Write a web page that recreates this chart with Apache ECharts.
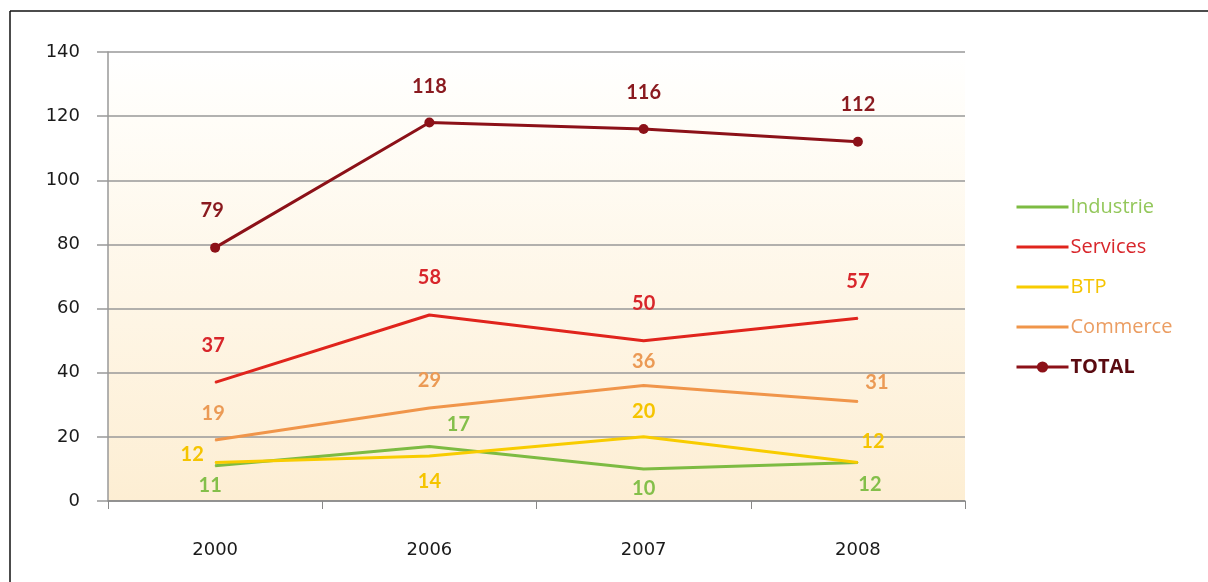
<!DOCTYPE html>
<html>
<head>
<meta charset="utf-8">
<script src="https://cdn.jsdelivr.net/npm/echarts@6/dist/echarts.min.js"></script>
<style>
  html, body { margin: 0; padding: 0; background: #fff; }
  #main { width: 1208px; height: 582px; }
</style>
</head>
<body>
<div id="main"></div>
<script>
// data
var years = ["2000", "2006", "2007", "2008"];
var industrie = [11, 17, 10, 12];
var services = [37, 58, 50, 57];
var btp = [12, 14, 20, 12];
var commerce = [19, 29, 36, 31];
var total = [79, 118, 116, 112];

// where each value label sits relative to its point (dx, dy in px)
var offIndustrie = [[-5, 20], [29, -22], [0, 20], [12, 22]];
var offServices = [[-2, -37], [0, -37], [0, -37], [0, -37]];
var offBtp = [[-23, -8], [0, 25], [0, -25], [15, -21]];
var offCommerce = [[-2, -27], [0, -27], [0, -24], [19, -19]];
var offTotal = [[-3, -37], [0, -36], [0, -36], [0, -37]];

var FONT = "Lato, 'Open Sans', sans-serif";
var AXFONT = "'DejaVu Sans', sans-serif";

function withLabels(values, offsets) {
  return values.map(function (v, i) {
    return { value: v, label: { offset: offsets[i] } };
  });
}

function makeSeries(name, values, offsets, color, labelColor, isTotal) {
  return {
    name: name,
    type: "line",
    data: withLabels(values, offsets),
    symbol: "circle",
    symbolSize: isTotal ? 10 : 1,
    lineStyle: { color: color, width: 3 },
    itemStyle: { color: color },
    label: {
      show: true,
      position: "inside",
      color: labelColor,
      fontFamily: FONT,
      fontWeight: "bold",
      fontSize: 20
    },
    emphasis: { disabled: true },
    z: isTotal ? 5 : 3
  };
}

var chart = echarts.init(document.getElementById("main"));
chart.setOption({
  animation: false,
  grid: {
    left: 108, right: 243, top: 52, bottom: 81,
    show: true,
    borderWidth: 0,
    backgroundColor: {
      type: "linear", x: 0, y: 0, x2: 0, y2: 1,
      colorStops: [
        { offset: 0, color: "#ffffff" },
        { offset: 0.15, color: "#fffdf8" },
        { offset: 1, color: "#fdeed3" }
      ]
    }
  },
  legend: {
    orient: "vertical",
    left: 1010, top: 192,
    itemWidth: 52, itemHeight: 14, itemGap: 20,
    lineStyle: { width: 3 },
    textStyle: { fontFamily: "'Open Sans', sans-serif", fontSize: 20, padding: [0, 0, 0, -3] },
    data: [
      { name: "Industrie", itemStyle: { opacity: 0 }, textStyle: { color: "#93c75a" } },
      { name: "Services", itemStyle: { opacity: 0 }, textStyle: { color: "#d8262b" } },
      { name: "BTP", itemStyle: { opacity: 0 }, textStyle: { color: "#f5c400" } },
      { name: "Commerce", itemStyle: { opacity: 0 }, textStyle: { color: "#eb9d62" } },
      { name: "TOTAL", textStyle: { color: "#5a0a10", fontWeight: "bold" } }
    ]
  },
  xAxis: {
    type: "category",
    data: years,
    boundaryGap: true,
    axisLine: { lineStyle: { color: "#888", width: 1.5 } },
    axisTick: { show: true, length: 8, lineStyle: { color: "#888" } },
    axisLabel: { color: "#1a1a1a", fontFamily: AXFONT, fontSize: 18, margin: 40 }
  },
  yAxis: {
    type: "value",
    min: 0, max: 140, interval: 20,
    axisLine: { show: true, lineStyle: { color: "#999", width: 1.5 } },
    axisTick: { show: true, inside: false, length: 11, lineStyle: { color: "#999", width: 1.5 } },
    splitLine: { lineStyle: { color: "#999", width: 1.5 } },
    axisLabel: { color: "#1a1a1a", fontFamily: AXFONT, fontSize: 18, margin: 28 }
  },
  series: [
    makeSeries("Industrie", industrie, offIndustrie, "#7dbb42", "#84bf4a", false),
    makeSeries("Services", services, offServices, "#e0241c", "#d8262b", false),
    makeSeries("BTP", btp, offBtp, "#f8cc00", "#f5c400", false),
    makeSeries("Commerce", commerce, offCommerce, "#f0954a", "#eb9a55", false),
    makeSeries("TOTAL", total, offTotal, "#8c1118", "#8a1a1f", true)
  ],
  graphic: [
    { type: "line", shape: { x1: 10, y1: 11, x2: 1208, y2: 11 }, style: { stroke: "#111", lineWidth: 1.5 } },
    { type: "line", shape: { x1: 10, y1: 11, x2: 10, y2: 582 }, style: { stroke: "#111", lineWidth: 1.5 } }
  ]
});
</script>
</body>
</html>
